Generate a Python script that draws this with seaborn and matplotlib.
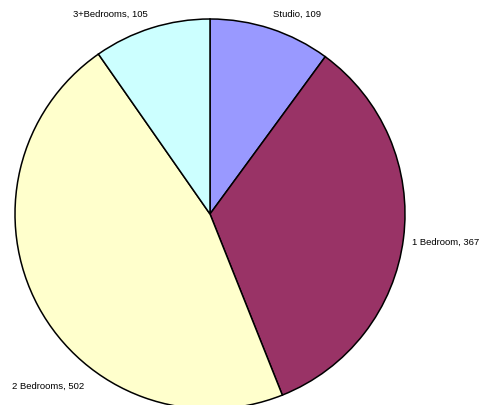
import matplotlib
matplotlib.use("Agg")
import matplotlib.pyplot as plt
import seaborn as sns

sns.set_theme(style="white")
plt.rcParams["font.family"] = ["Liberation Sans", "DejaVu Sans"]

categories = ["Studio", "1 Bedroom", "2 Bedrooms", "3+Bedrooms"]
counts = [109, 367, 502, 105]
colors = ["#9999FF", "#993366", "#FFFFCC", "#CCFFFF"]

fig = plt.figure(figsize=(4.94, 4.06), dpi=100)
ax = fig.add_axes([0, 0, 1, 1])

ax.pie(counts, colors=colors, startangle=90, counterclock=False,
       radius=1.0, wedgeprops=dict(edgecolor="black", linewidth=1.1))

# label placement (data units, pie radius = 1)
label_pos = [(0.323, 1.031, "left"),
             (1.036, -0.138, "left"),
             (-1.015, -0.877, "left"),
             (-0.318, 1.031, "right")]
for cat, val, (x, y, ha) in zip(categories, counts, label_pos):
    ax.text(x, y, f"{cat}, {val}", ha=ha, va="center", fontsize=6.8,
            color="black")

ax.set_xlim(-210 / 195, 284 / 195)
ax.set_ylim((215 - 406) / 195, 215 / 195)
ax.set_aspect("equal")
ax.axis("off")

fig.savefig("out.png", dpi=100, facecolor="white")
